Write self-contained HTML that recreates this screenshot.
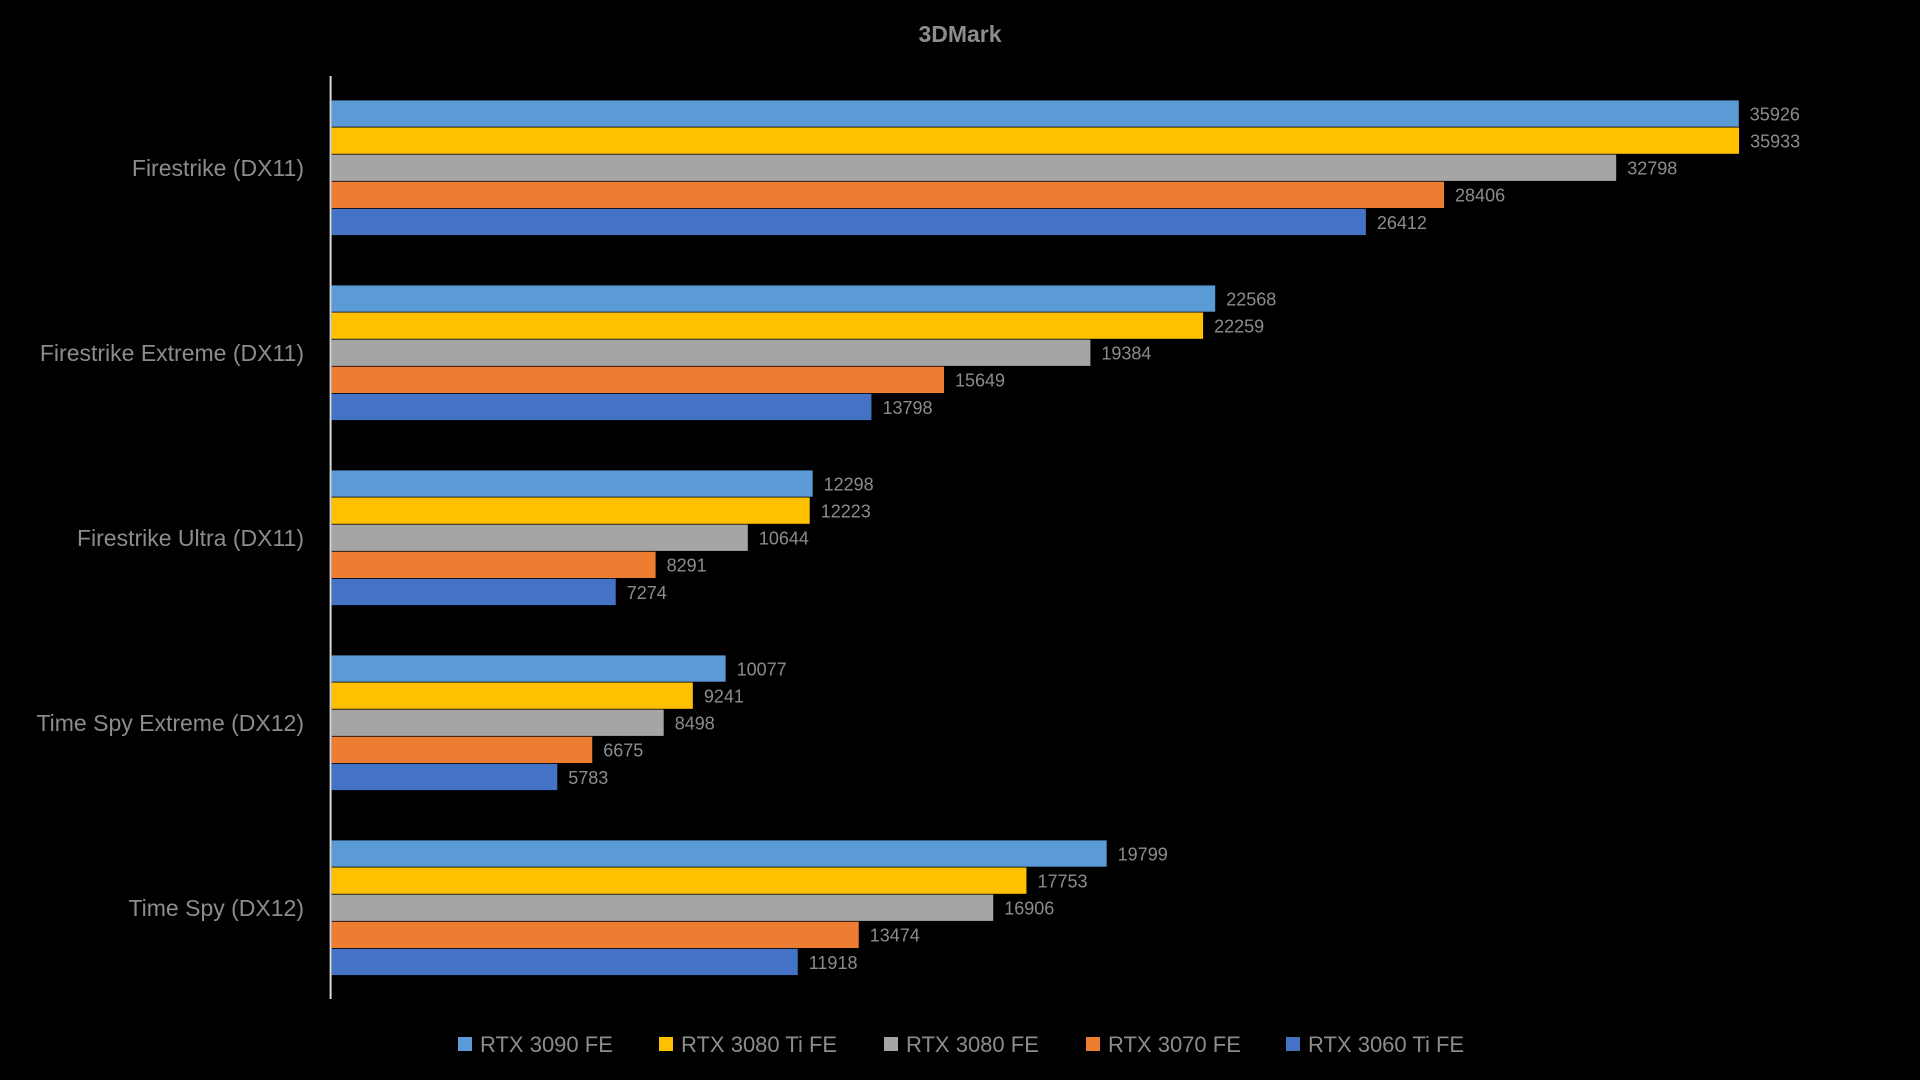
<!DOCTYPE html>
<html><head><meta charset="utf-8"><style>
html,body{margin:0;padding:0;background:#000;}
body{width:1920px;height:1080px;overflow:hidden;position:relative;font-family:"Liberation Sans",sans-serif;}
</style></head><body>
<svg id="chart" width="1920" height="1080" style="position:absolute;left:0;top:0">
<text x="960" y="42" text-anchor="middle" fill="#8c8c8c" font-size="23" font-weight="bold" font-family="Liberation Sans, sans-serif">3DMark</text>
<line x1="330.6" y1="76" x2="330.6" y2="999" stroke="#d9d9d9" stroke-width="2"/>
<g id="bars"></g>
<g id="legend"></g>
</svg>
<script>
const categories = ["Firestrike (DX11)","Firestrike Extreme (DX11)","Firestrike Ultra (DX11)","Time Spy Extreme (DX12)","Time Spy (DX12)"];
const seriesNames = ["RTX 3090 FE","RTX 3080 Ti FE","RTX 3080 FE","RTX 3070 FE","RTX 3060 Ti FE"];
const rtx3090 = [35926,22568,12298,10077,19799];
const rtx3080ti = [35933,22259,12223,9241,17753];
const rtx3080 = [32798,19384,10644,8498,16906];
const rtx3070 = [28406,15649,8291,6675,13474];
const rtx3060ti = [26412,13798,7274,5783,11918];
const seriesValues = [rtx3090,rtx3080ti,rtx3080,rtx3070,rtx3060ti];
const colors = ["#5b9bd5","#ffc000","#a5a5a5","#ed7d31","#4472c4"];
const NS="http://www.w3.org/2000/svg";
const x0=330.6, pxPerUnit=(1738.8-330.6)/35926;
const xScale=v=>x0+v*pxPerUnit;
const groupTop=100.4, groupStep=185, barH=27.1;
const yScale=(ci,si)=>groupTop+ci*groupStep+si*barH;
const g=document.getElementById('bars');
categories.forEach((c,ci)=>{
  const t=document.createElementNS(NS,'text');
  
  
  t.setAttribute('x',304);t.setAttribute('y',yScale(ci,2.5)+8);
  t.setAttribute('text-anchor','end');t.setAttribute('fill','#8c8c8c');
  t.setAttribute('font-size','23');t.setAttribute('font-family','Liberation Sans, sans-serif');
  t.textContent=c;g.appendChild(t);
  seriesValues.forEach((vals,si)=>{
    const r=document.createElementNS(NS,'rect');
    
    
    r.setAttribute('x',x0+1);r.setAttribute('y',yScale(ci,si));
    r.setAttribute('width',xScale(vals[ci])-x0-1);r.setAttribute('height',barH-0.8);
    r.setAttribute('fill',colors[si]);g.appendChild(r);
    const l=document.createElementNS(NS,'text');
    
    
    l.setAttribute('x',xScale(vals[ci])+11);l.setAttribute('y',yScale(ci,si)+20);
    l.setAttribute('fill','#8c8c8c');l.setAttribute('font-size','18');
    l.setAttribute('font-family','Liberation Sans, sans-serif');
    l.textContent=vals[ci];g.appendChild(l);
  });
});
const lg=document.getElementById('legend');
const legendX=[458,659,884,1086,1286];
seriesNames.forEach((n,i)=>{
  const r=document.createElementNS(NS,'rect');
  
  
  r.setAttribute('x',legendX[i]);r.setAttribute('y',1037);r.setAttribute('width',14);r.setAttribute('height',14);
  r.setAttribute('fill',colors[i]);lg.appendChild(r);
  const t=document.createElementNS(NS,'text');
  
  
  t.setAttribute('x',legendX[i]+22);t.setAttribute('y',1052);
  t.setAttribute('fill','#8c8c8c');t.setAttribute('font-size','22');
  t.setAttribute('font-family','Liberation Sans, sans-serif');
  t.textContent=n;lg.appendChild(t);
});
</script>
</body></html>
